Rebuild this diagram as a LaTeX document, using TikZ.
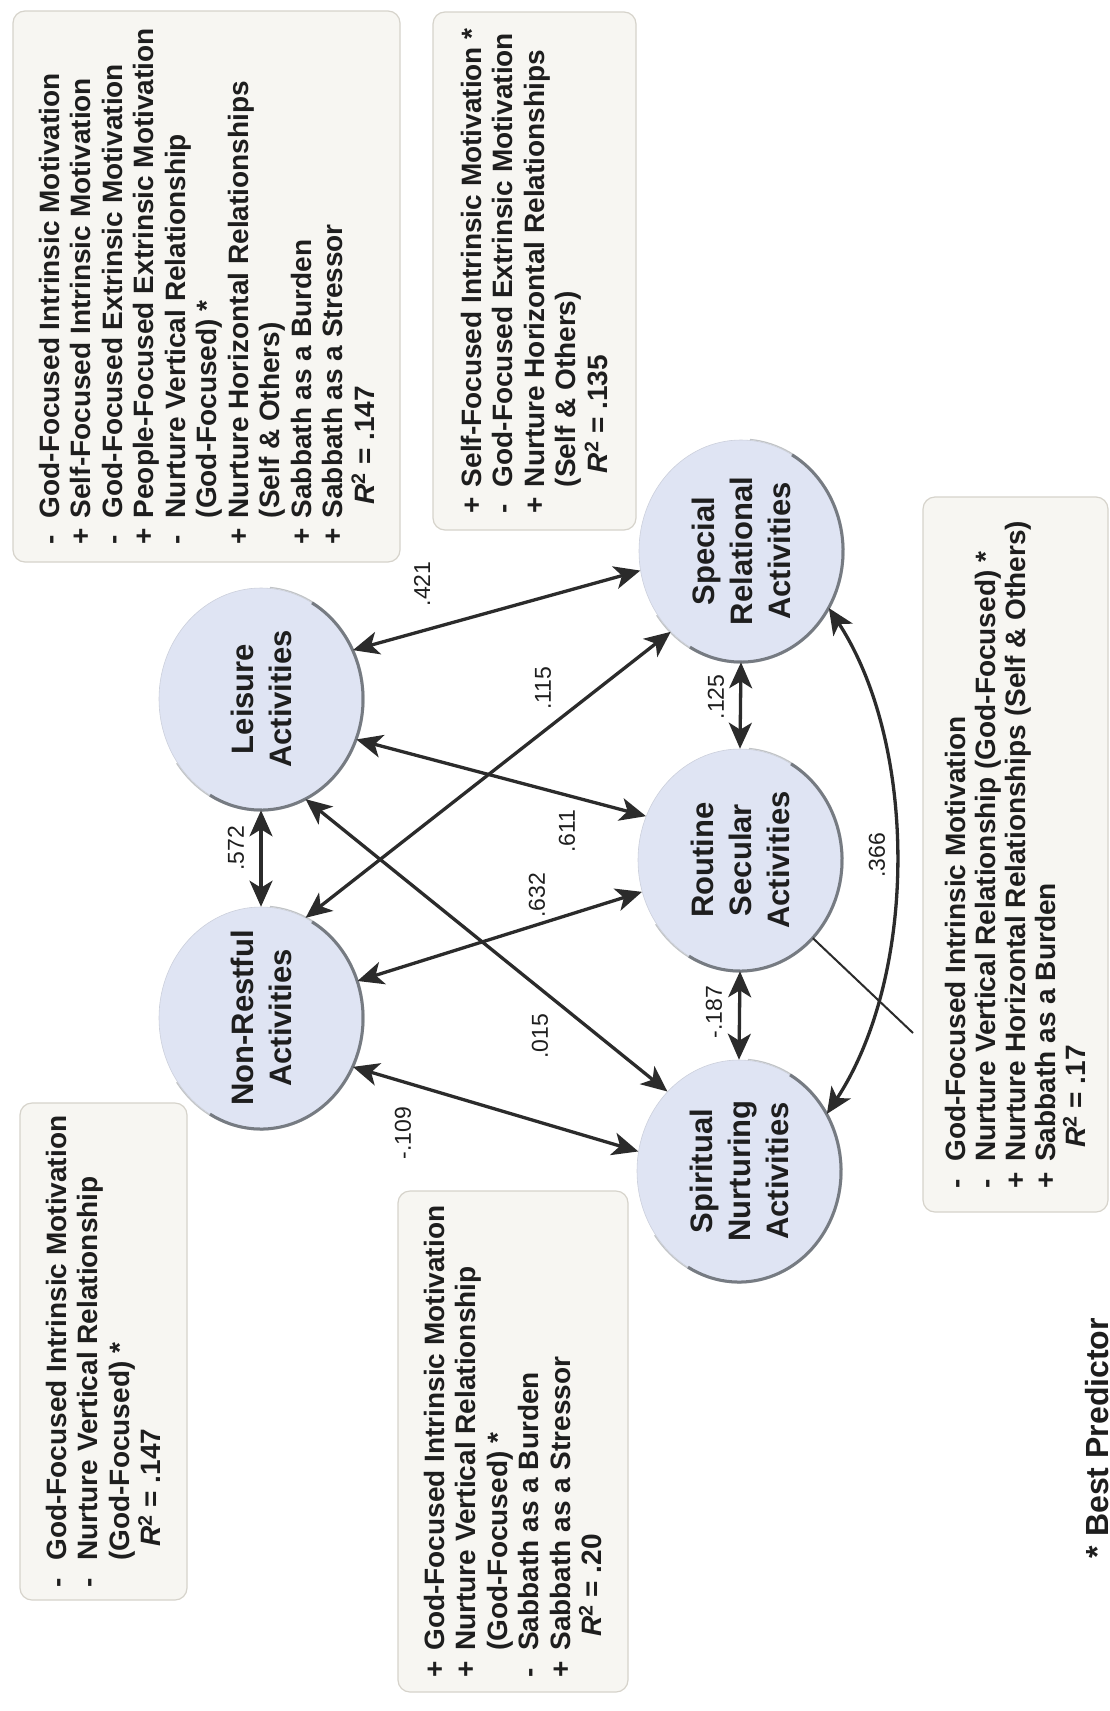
\documentclass[tikz,border=0pt]{standalone}
\usepackage{fontspec}
\setmainfont{Liberation Sans}
\usetikzlibrary{arrows.meta,shapes.geometric}
\definecolor{circfill}{HTML}{DFE4F3}
\definecolor{rimcol}{HTML}{767B82}
\definecolor{arrcol}{HTML}{2B2B2B}
\definecolor{boxfill}{HTML}{F7F6F2}
\definecolor{boxdraw}{HTML}{D6D3CB}
\definecolor{txtcol}{HTML}{1E1E1E}
\newcommand\sg[1]{\makebox[0.95em][l]{#1}}
\newcommand\ind{\hspace*{0.95em}}
\newcommand\rind{\hspace*{1.45em}}
\newcommand\rsq{\textit{R}\textsuperscript{2}}
\begin{document}
\begin{tikzpicture}[x=1pt,y=-1pt,
  circ/.style={ellipse, minimum width=204pt, minimum height=222pt, inner sep=0pt, fill=circfill, draw=circfill!80!gray, line width=0.6pt},
  rim/.style={draw=rimcol, line width=3pt},
  ctext/.style={rotate=90, align=center, font=\fontsize{31}{38}\selectfont\bfseries, text=txtcol},
  elab/.style={rotate=90, font=\fontsize{23}{26}\selectfont, text=txtcol},
  infobox/.style={rotate=90, align=left, rounded corners=12pt, fill=boxfill, draw=boxdraw, line width=1.2pt, font=\fontsize{28}{31.5}\selectfont\bfseries, text=txtcol, inner sep=0pt},
  biarrow/.style={draw=arrcol, line width=3.3pt, {Stealth[length=26pt,width=23pt,inset=7pt]}-{Stealth[length=26pt,width=23pt,inset=7pt]}},
  plainline/.style={draw=arrcol, line width=2pt},
  bestnote/.style={rotate=90, font=\fontsize{32}{36}\selectfont\bfseries, text=txtcol}
]
\fill[white] (0,0) rectangle (1110,1711);
\useasboundingbox (0,0) rectangle (1110,1711);

% info boxes
\node[infobox, minimum width=551pt, minimum height=387pt] (box1) at (206.5,286.5) {%
\sg{-}God-Focused Intrinsic Motivation\\
\sg{+}Self-Focused Intrinsic Motivation\\
\sg{-}God-Focused Extrinsic Motivation\\
\sg{+}People-Focused Extrinsic Motivation\\
\sg{-}Nurture Vertical Relationship\\
\ind(God-Focused) *\\
\sg{+}Nurture Horizontal Relationships\\
\ind(Self \& Others)\\
\sg{+}Sabbath as a Burden\\
\sg{+}Sabbath as a Stressor\\
\rind\rsq{} = .147};

\node[infobox, minimum width=518pt, minimum height=203pt] (box2) at (534.5,271) {%
\sg{+}Self-Focused Intrinsic Motivation *\\
\sg{-}God-Focused Extrinsic Motivation\\
\sg{+}Nurture Horizontal Relationships\\
\ind(Self \& Others)\\
\rind\rsq{} = .135};

\node[infobox, minimum width=715pt, minimum height=185pt, font=\fontsize{28}{30}\selectfont\bfseries] (box3) at (1015.5,854.5) {%
\sg{-}God-Focused Intrinsic Motivation\\
\sg{-}Nurture Vertical Relationship (God-Focused) *\\
\sg{+}Nurture Horizontal Relationships (Self \& Others)\\
\sg{+}Sabbath as a Burden\\
\rind\rsq{} = .17};

\node[infobox, minimum width=497pt, minimum height=167pt] (box4) at (103.5,1351.5) {%
\sg{-}God-Focused Intrinsic Motivation\\
\sg{-}Nurture Vertical Relationship\\
\ind(God-Focused) *\\
\rind\rsq{} = .147};

\node[infobox, minimum width=501pt, minimum height=230pt] (box5) at (513,1441.5) {%
\sg{+}God-Focused Intrinsic Motivation\\
\sg{+}Nurture Vertical Relationship\\
\ind(God-Focused) *\\
\sg{-}Sabbath as a Burden\\
\sg{+}Sabbath as a Stressor\\
\rind\rsq{} = .20};

% circles
\node[circ] (L) at (261,699) {};
\node[circ] (N) at (261,1018) {};
\node[circ] (S) at (741,551) {};
\node[circ] (R) at (740,860) {};
\node[circ] (P) at (739,1171) {};
\foreach \c in {L,N,S,R,P}{
  \draw[rimcol!45, line width=1.2pt] (\c.center) ++(85:103pt and 112pt) arc[start angle=85, end angle=-145, x radius=103pt, y radius=112pt];
  \draw[rim] (\c.center) ++(60:102pt and 111pt) arc[start angle=60, end angle=-120, x radius=102pt, y radius=111pt];
}
\node[ctext] (Lt) at (L) {Leisure\\Activities};
\node[ctext] (Nt) at (N) {Non-Restful\\Activities};
\node[ctext] (St) at (S) {Special\\Relational\\Activities};
\node[ctext] (Rt) at (R) {Routine\\Secular\\Activities};
\node[ctext] (Pt) at (P) {Spiritual\\Nurturing\\Activities};

% connectors
\draw[biarrow] (L.-90) -- (N.90);
\draw[biarrow] (L.28) -- (S.191);
\draw[biarrow] (L.-23) -- (R.155);
\draw[biarrow] (L.-66) -- (P.132);
\draw[biarrow] (N.66.6) -- (S.229);
\draw[biarrow] (N.21.6) -- (R.198);
\draw[biarrow] (N.-28.8) -- (P.169);
\draw[biarrow] (S.-90) -- (R.90);
\draw[biarrow] (R.-90) -- (P.90);
\draw[biarrow] (S.-33) .. controls (918,745) and (918,975) .. (P.33);
\coordinate (b3c) at (913,1033);
\draw[plainline] (b3c) -- (R.-47.6);

% connector labels
\node[elab] (e572) at (236,848) {.572};
\node[elab] (e421) at (422,584) {.421};
\node[elab] (e115) at (543,688) {.115};
\node[elab] (e611) at (567,831) {.611};
\node[elab] (e632) at (537,895) {.632};
\node[elab] (e015) at (540,1036) {.015};
\node[elab] (e125) at (716,697) {.125};
\node[elab] (e187) at (714,1012) {-.187};
\node[elab] (e109) at (403,1133) {-.109};
\node[elab] (e366) at (877,855) {.366};

\node[bestnote] (best) at (1097,1438) {* Best Predictor};
\end{tikzpicture}
\end{document}
